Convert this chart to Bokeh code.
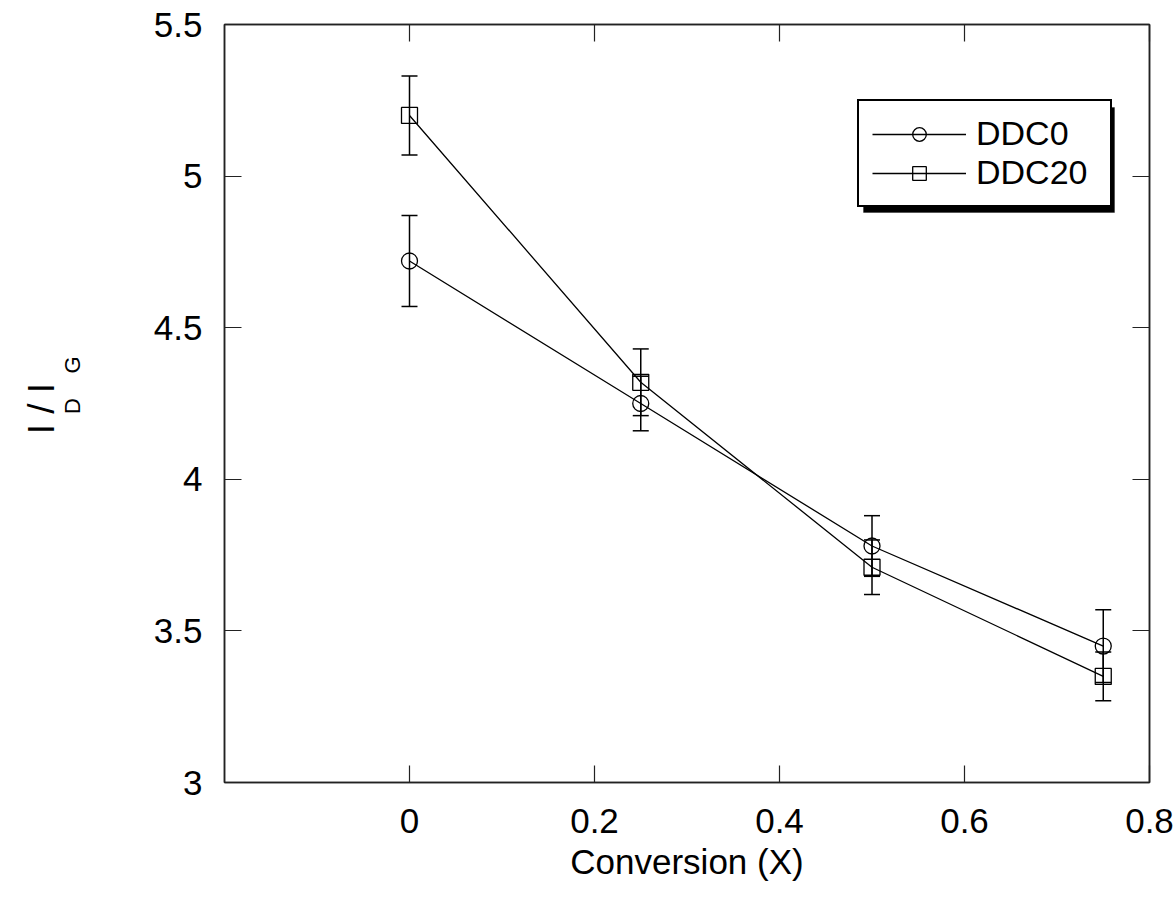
import math
from bokeh.plotting import figure
from bokeh.models import (Range1d, LinearAxis, FixedTicker, Whisker, ColumnDataSource,
                          Legend, LegendItem, BoxAnnotation, TeeHead, NumeralTickFormatter)
from bokeh.embed import file_html
from bokeh.resources import INLINE

# ---- data ----
conversion = [0.0, 0.25, 0.5, 0.75]
ddc0 = [4.72, 4.25, 3.78, 3.45]
ddc0_err = [0.15, 0.09, 0.10, 0.12]
ddc20 = [5.20, 4.32, 3.71, 3.35]
ddc20_err = [0.13, 0.11, 0.09, 0.08]
x_ticks = [0, 0.2, 0.4, 0.6, 0.8]
y_ticks = [3, 3.5, 4, 4.5, 5, 5.5]
series_names = ["DDC0", "DDC20"]

FONT = "Liberation Sans"
W, H = 1176, 915
L, R, T, B = 224, 27, 24, 133
X0, X1 = -0.2, 0.8
Y0, Y1 = 3.0, 5.5

def px2x(px):
    return X0 + (px - L) / (W - L - R) * (X1 - X0)

def px2y(py):
    return Y0 + ((H - B) - py) / (H - T - B) * (Y1 - Y0)

p = figure(width=W, height=H, output_backend="svg", toolbar_location=None,
           x_range=Range1d(X0, X1), y_range=Range1d(Y0, Y1),
           min_border_left=L, min_border_right=R, min_border_top=T, min_border_bottom=B,
           x_axis_label="Conversion (X)")
p.xgrid.visible = False
p.ygrid.visible = False
p.outline_line_color = "#222222"
p.outline_line_width = 1.5
p.background_fill_color = "white"
p.border_fill_color = "white"

def style_axis(ax, ticks, show_labels=True):
    ax.ticker = FixedTicker(ticks=ticks)
    ax.major_tick_in = 17
    ax.major_tick_out = 0
    ax.minor_tick_line_color = None
    ax.axis_line_color = "#222222"
    ax.axis_line_width = 1.5
    ax.major_tick_line_color = "#222222"
    ax.major_tick_line_width = 1.2
    ax.major_label_text_font = FONT
    ax.major_label_text_font_size = "35px"
    ax.major_label_text_color = "black"
    if show_labels:
        ax.formatter = NumeralTickFormatter(format="0.[0]")
    else:
        ax.major_label_text_font_size = "0px"
        ax.major_label_text_alpha = 0

xb = p.xaxis[0]
style_axis(xb, x_ticks)
xb.major_label_standoff = 26
xb.axis_label_text_font = FONT
xb.axis_label_text_font_size = "35px"
xb.axis_label_text_font_style = "normal"
xb.axis_label_text_color = "black"
xb.axis_label_standoff = 6

yl = p.yaxis[0]
style_axis(yl, y_ticks)
yl.major_label_standoff = 22

xt = LinearAxis()
style_axis(xt, x_ticks, show_labels=False)
p.add_layout(xt, "above")
yr = LinearAxis()
style_axis(yr, y_ticks, show_labels=False)
p.add_layout(yr, "right")

# ---- y axis title: I_D / I_G built from two label-only axes ----
NB = "\u00a0"

def title_axis(text, size, standoff):
    ax = LinearAxis(axis_label=text, ticker=FixedTicker(ticks=[]))
    ax.axis_line_color = None
    ax.major_tick_line_color = None
    ax.minor_tick_line_color = None
    ax.major_tick_in = 0
    ax.major_tick_out = 0
    ax.axis_label_text_font = FONT
    ax.axis_label_text_font_size = size
    ax.axis_label_text_font_style = "normal"
    ax.axis_label_text_color = "black"
    ax.axis_label_standoff = standoff
    return ax

sub_axis = title_axis(NB * 6 + "D" + NB * 4 + "G", "22px", 66)
main_axis = title_axis("I" + NB + "/" + NB + "I" + NB, "37px", -5)
p.add_layout(sub_axis, "left")
p.add_layout(main_axis, "left")

# ---- series ----
src0 = ColumnDataSource(dict(x=conversion, y=ddc0,
                             lo=[v - e for v, e in zip(ddc0, ddc0_err)],
                             hi=[v + e for v, e in zip(ddc0, ddc0_err)]))
src20 = ColumnDataSource(dict(x=conversion, y=ddc20,
                              lo=[v - e for v, e in zip(ddc20, ddc20_err)],
                              hi=[v + e for v, e in zip(ddc20, ddc20_err)]))

renderers = []
for src, marker in [(src0, "circle"), (src20, "square")]:
    w = Whisker(source=src, base="x", upper="hi", lower="lo", dimension="height",
                line_color="black", line_width=1.5,
                upper_head=TeeHead(size=16, line_color="black", line_width=1.5),
                lower_head=TeeHead(size=16, line_color="black", line_width=1.5))
    p.add_layout(w)
    ln = p.line("x", "y", source=src, line_color="black", line_width=1.3)
    sc = p.scatter("x", "y", source=src, marker=marker, size=16, line_color="black",
                   line_width=1.3, fill_alpha=0)
    renderers.append([ln, sc])

# ---- legend with shadow ----
shadow = BoxAnnotation(left=px2x(863), right=px2x(1114), top=px2y(107), bottom=px2y(212),
                       fill_color="black", fill_alpha=1, line_color="black", level="underlay")
p.add_layout(shadow)

legend = Legend(items=[LegendItem(label=n, renderers=r) for n, r in zip(series_names, renderers)],
                location=(633, 575), orientation="vertical",
                border_line_color="black", border_line_width=2.5, border_line_alpha=1,
                background_fill_color="white", background_fill_alpha=1,
                label_text_font=FONT, label_text_font_size="34px", label_text_color="black",
                glyph_width=94, glyph_height=34, label_height=34, label_width=121,
                label_standoff=10, spacing=0, padding=13, margin=0)
p.add_layout(legend, "center")

open("out.html", "w").write(file_html(p, INLINE))
